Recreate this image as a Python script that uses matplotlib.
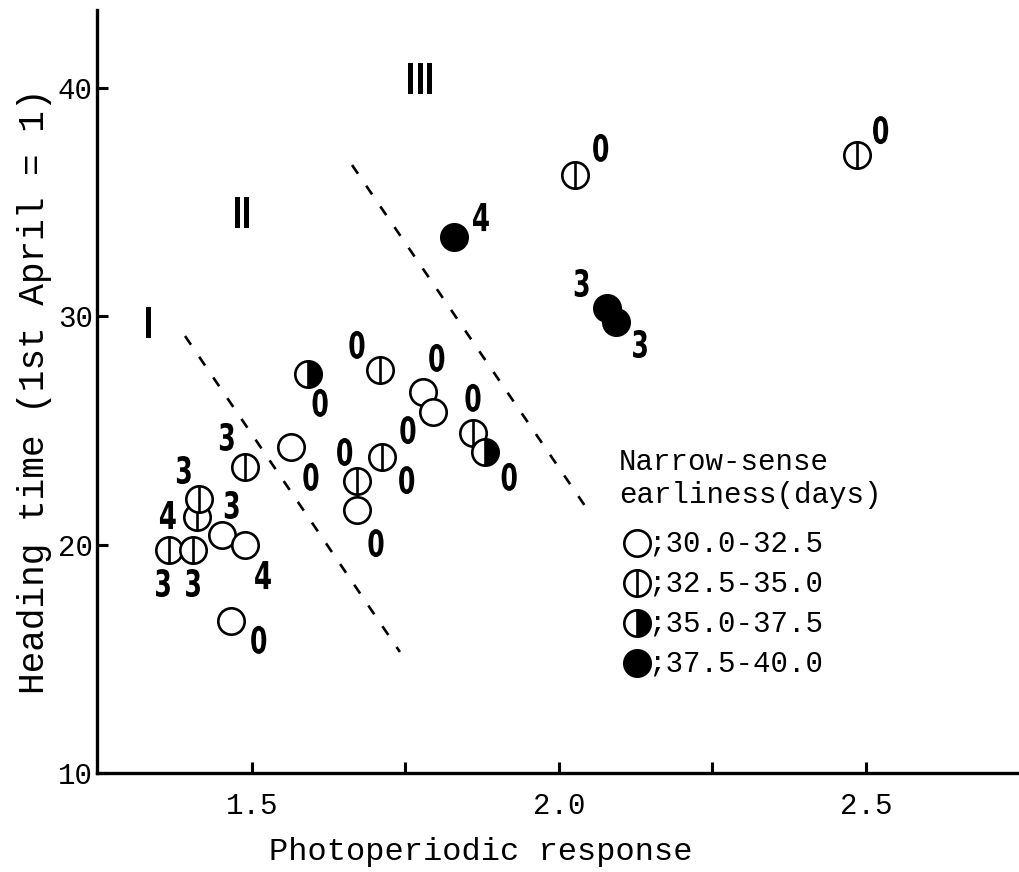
import matplotlib
matplotlib.use('Agg')
import matplotlib.pyplot as plt
from matplotlib.textpath import TextPath
from matplotlib.patches import PathPatch
from matplotlib.font_manager import FontProperties
from matplotlib.transforms import Affine2D

# --------------------------------------------------------------
# Heading time vs photoperiodic response, marker = earliness class
# --------------------------------------------------------------

# marker classes: 0 open, 1 barred, 2 half-filled, 3 filled
# (partly hidden markers come first so the next one covers them)
pt_x = [1.410, 1.414, 1.489, 1.451, 1.489, 1.365, 1.404, 1.466,
        1.564, 1.591, 1.708, 1.778, 1.795, 1.860, 1.879, 1.712,
        1.671, 1.671, 1.829, 2.093, 2.078, 2.026, 2.485]
pt_y = [21.21, 22.00, 23.40, 20.42, 19.99, 19.77, 19.77, 16.66,
        24.28, 27.48, 27.65, 26.69, 25.81, 24.89, 24.06, 23.84,
        22.79, 21.52, 33.48, 29.75, 30.37, 36.19, 37.07]
pt_cls = [1, 1, 1, 0, 0, 1, 1, 0,
          0, 2, 1, 0, 0, 1, 2, 1,
          1, 0, 3, 3, 3, 1, 1]

# digit annotations next to the points
lab_x = [1.459, 1.389, 1.363, 1.467, 1.518, 1.355, 1.404, 1.511,
         1.596, 1.611, 1.671, 1.801, 1.860, 1.919, 1.651, 1.754,
         1.752, 1.702, 2.068, 2.524, 1.873, 2.037, 2.132]
lab_y = [24.72, 23.27, 21.30, 21.74, 18.67, 18.32, 18.32, 15.83,
         22.97, 26.21, 28.75, 28.18, 26.43, 22.97, 24.06, 25.02,
         22.83, 20.07, 37.38, 38.16, 34.35, 31.46, 28.79]
lab_txt = ['3', '3', '4', '3', '4', '3', '3', '0',
           '0', '0', '0', '0', '0', '0', '0', '0',
           '0', '0', '0', '0', '4', '3', '3']

# group boundaries (dashed) and group names
div1_x = [1.391, 1.741]
div1_y = [29.14, 15.30]
div2_x = [1.663, 2.047]
div2_y = [36.63, 21.52]
grp_x = [1.331, 1.484, 1.774]
grp_y = [29.75, 34.57, 40.40]
grp_txt = ['I', 'II', 'III']

legend_title = ['Narrow-sense', 'earliness(days)']
legend_rows = [';30.0-32.5', ';32.5-35.0', ';35.0-37.5', ';37.5-40.0']

MONO = ['Liberation Mono', 'DejaVu Sans Mono']
MS = 19
MEW = 1.9
BOLD = FontProperties(family='DejaVu Sans', weight='bold')


def draw_marker(ax, x, y, cls, z, **kw):
    common = dict(marker='o', markersize=MS, markeredgewidth=MEW,
                  markeredgecolor='black', linestyle='none', zorder=z)
    common.update(kw)
    if cls == 2:
        ax.plot([x], [y], fillstyle='right', markerfacecolor='black',
                markerfacecoloralt='white', **common)
    elif cls == 3:
        ax.plot([x], [y], markerfacecolor='black', **common)
    else:
        ax.plot([x], [y], markerfacecolor='white', **common)
    if cls == 1:
        ax.plot([x], [y], marker='|', markersize=MS, markeredgewidth=MEW,
                color='black', linestyle='none', zorder=z + 0.5, **kw)


def narrow_text(ax, x, y, s, height_px, squeeze):
    # condensed bold glyphs: squeeze a text path horizontally
    tp = TextPath((0, 0), s, size=100, prop=BOLD)
    bb = tp.get_extents()
    k = height_px / bb.height
    px, py = ax.transData.transform((x, y))
    tr = (Affine2D().translate(-(bb.x0 + bb.x1) / 2, -(bb.y0 + bb.y1) / 2)
          .scale(k * squeeze, k).translate(px, py))
    ax.add_artist(PathPatch(tp, transform=tr, facecolor='black',
                            edgecolor='none', zorder=40))


fig = plt.figure(figsize=(10.2, 8.72), dpi=100)
ax = fig.add_axes([97 / 1020, 99 / 872, 923 / 1020, 763 / 872])
ax.set_xlim(1.2476, 2.751)
ax.set_ylim(10, 43.42)

for i, (x, y, c) in enumerate(zip(pt_x, pt_y, pt_cls)):
    draw_marker(ax, x, y, c, 3 + i)

for x, y, t in zip(lab_x, lab_y, lab_txt):
    narrow_text(ax, x, y, t, 28, 0.68)

for xs, ys in ((div1_x, div1_y), (div2_x, div2_y)):
    ax.plot(xs, ys, color='black', linewidth=1.9,
            linestyle=(0, (4, 5.5)), zorder=2)

for x, y, t in zip(grp_x, grp_y, grp_txt):
    narrow_text(ax, x, y, t, 31, 0.6)

ax.set_xticks([1.5, 1.75, 2.0, 2.25, 2.5])
ax.set_xticklabels(['1.5', '', '2.0', '', '2.5'])
ax.set_yticks([10, 20, 30, 40])
for lab in ax.get_xticklabels() + ax.get_yticklabels():
    lab.set_family(MONO)
    lab.set_fontsize(21)
ax.tick_params(axis='both', direction='in', length=8, width=2.2)
ax.tick_params(axis='x', pad=14)
ax.tick_params(axis='y', pad=3)

for side in ('top', 'right'):
    ax.spines[side].set_visible(False)
for side in ('left', 'bottom'):
    ax.spines[side].set_linewidth(2.4)

ax.set_xlabel('Photoperiodic response', family=MONO, fontsize=23)
ax.xaxis.label.set_verticalalignment('center')
ax.xaxis.set_label_coords((481 - 97) / 923, -(852 - 773) / 763)
ax.set_ylabel('Heading time (1st April = 1)', family=MONO, fontsize=26,
              labelpad=4)

# legend drawn by hand in figure pixels
W, H = 1020, 872
fig.text(619 / W, 1 - 462 / H, legend_title[0], family=MONO, fontsize=21,
         ha='left', va='center')
fig.text(619 / W, 1 - 495 / H, legend_title[1], family=MONO, fontsize=21,
         ha='left', va='center')
for k, row in enumerate(legend_rows):
    py = 543 + 40 * k
    fx, fy = 637 / W, 1 - py / H
    draw_marker(ax, fx, fy, k, 50, transform=fig.transFigure, clip_on=False)
    fig.text(648 / W, fy, row, family=MONO, fontsize=21,
             ha='left', va='center')

fig.savefig('out.png', dpi=100)
